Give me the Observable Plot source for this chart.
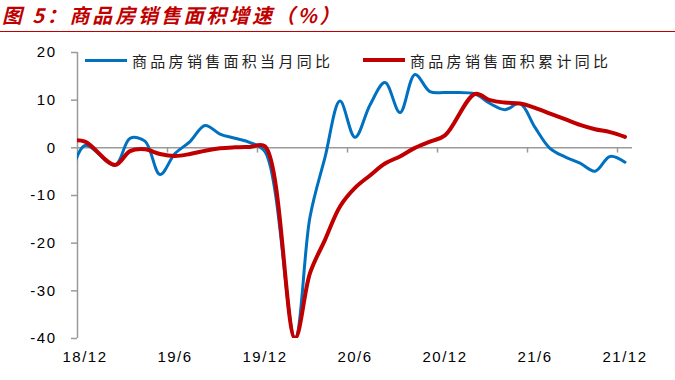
<!DOCTYPE html>
<html>
<head>
<meta charset="utf-8">
<script src="https://cdn.jsdelivr.net/npm/d3@7"></script>
<script src="https://cdn.jsdelivr.net/npm/@observablehq/plot@0.6"></script>
<style>
  html, body { margin: 0; padding: 0; background: #fff; }
  #wrap { position: relative; width: 675px; height: 380px; overflow: hidden; }
  #title {
    height: 31px; border-bottom: 1px solid #C00000; box-sizing: content-box;
    font-family: "Noto Sans CJK SC", sans-serif; font-weight: bold; font-style: italic;
    color: #C00000; font-size: 20px; line-height: 30px; letter-spacing: 2.8px; padding-left: 2px;
    white-space: nowrap;
  }
  #gap { height: 2px; }
  .leg { position: absolute; top: 49px; height: 22px; display: flex; align-items: center;
    font-family: "Noto Sans CJK SC", sans-serif; font-size: 15px; letter-spacing: 3.3px; color: #222; white-space: nowrap; }
  .leg span.sw { display: inline-block; width: 42px; margin-right: 5px; }
</style>
</head>
<body>
<div id="wrap">
  <div id="title">图 5：商品房销售面积增速（%）</div>
  <div id="gap"></div>
  <div id="chart"></div>
  <div class="leg" style="left:85px"><span class="sw" style="height:3px;background:#0070C0"></span>商品房销售面积当月同比</div>
  <div class="leg" style="left:363px"><span class="sw" style="height:4px;background:#C00000"></span>商品房销售面积累计同比</div>
</div>
<script>
// Months (YY/M); Jan is absent because Jan–Feb are reported together
const months = ["18/11","18/12","19/2","19/3","19/4","19/5","19/6","19/7","19/8","19/9","19/10","19/11","19/12",
  "20/2","20/3","20/4","20/5","20/6","20/7","20/8","20/9","20/10","20/11","20/12",
  "21/2","21/3","21/4","21/5","21/6","21/7","21/8","21/9","21/10","21/11","21/12"];
// 商品房销售面积当月同比 (%)
const monthlyYoY = [-6.5, 0.5, -3.6, 2.0, 1.4, -5.6, -1.2, 1.3, 4.7, 2.9, 2.0, 1.1, -0.8,
  -39.9, -14.5, -2.0, 9.8, 2.2, 9.0, 13.7, 7.4, 15.4, 11.8, 11.6,
  11.3, 9.3, 8.0, 9.3, 4.3, -0.1, -1.9, -3.2, -4.9, -1.8, -3.0];
// 商品房销售面积累计同比 (%)
const cumulativeYoY = [1.5, 1.3, -3.6, -0.7, -0.3, -1.3, -1.7, -1.3, -0.6, -0.1, 0.1, 0.2, 0.3,
  -39.9, -26.3, -19.3, -12.3, -8.4, -5.8, -3.3, -1.8, 0.0, 1.3, 2.6,
  11.3, 10.0, 9.5, 9.3, 8.4, 7.2, 6.0, 4.8, 3.9, 3.3, 2.3];
// axis
const xTickLabels = ["18/12","19/6","19/12","20/6","20/12","21/6","21/12"];
const yTicks = [-40, -30, -20, -10, 0, 10, 20];
const firstMonth = "18/12", lastMonth = "21/12";

const idx = s => { const [y, m] = s.split("/").map(Number); return (y - 18) * 12 + m - 12; };
const blue = months.map((m, i) => ({i: idx(m), v: monthlyYoY[i]}));
const red = months.map((m, i) => ({i: idx(m), v: cumulativeYoY[i]}));
const labelIdx = xTickLabels.map(idx);
const x0 = idx(firstMonth) - 0.5, x1 = idx(lastMonth) + 0.5;
const boundaries = labelIdx.slice(1).map(i => i - 0.5);
const labelOf = new Map(labelIdx.map((i, k) => [i, xTickLabels[k]]));
const gray = "#9a9a9a";

const chart = Plot.plot({
  width: 675, height: 346,
  marginLeft: 77, marginRight: 43, marginTop: 18, marginBottom: 42,
  x: {type: "linear", domain: [x0, x1]},
  y: {domain: [-40, 20]},
  style: {fontFamily: "'Liberation Sans', Arial, sans-serif", fontSize: "15px", letterSpacing: "1.5px", color: "#000", background: "#fff"},
  marks: [
    Plot.ruleY([0], {stroke: gray, strokeWidth: 1.5}),
    Plot.ruleX([x0], {stroke: gray, strokeWidth: 1.5}),
    Plot.ruleX(boundaries, {y1: 0, y2: -1.1, stroke: gray, strokeWidth: 1.5}),
    Plot.axisY({ticks: yTicks, tickSize: 6, tickPadding: 15, stroke: gray, strokeWidth: 1.5, fontSize: 15, tickFormat: d => String(d), label: null}),
    Plot.axisX({ticks: labelIdx, tickSize: 0, tickPadding: 13, fontSize: 15, tickFormat: d => labelOf.get(d), label: null}),
    Plot.line(blue, {x: "i", y: "v", curve: "catmull-rom", stroke: "#0070C0", strokeWidth: 3, clip: true}),
    Plot.line(red, {x: "i", y: "v", curve: "catmull-rom", stroke: "#C00000", strokeWidth: 4, clip: true})
  ]
});
document.getElementById("chart").appendChild(chart);
</script>
</body>
</html>
